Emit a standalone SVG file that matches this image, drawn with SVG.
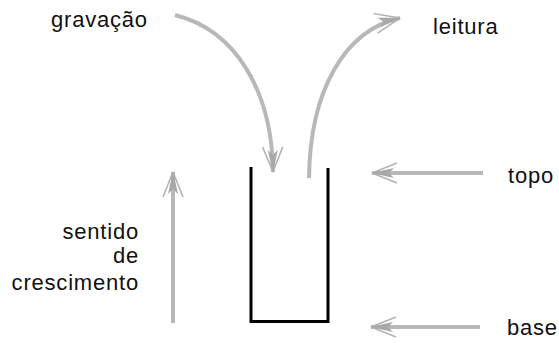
<svg xmlns="http://www.w3.org/2000/svg" width="559" height="343" viewBox="0 0 559 343">
<style>
.lbl{font-family:"Liberation Sans",Arial,sans-serif;font-size:22px;letter-spacing:0.8px;fill:#111}
.arr{fill:none;stroke:#b8b8b8;stroke-width:4;marker-end:url(#ah)}
.cont{fill:none;stroke:#000;stroke-width:3;stroke-linejoin:miter}
</style>
<defs>
<marker id="ah" markerUnits="userSpaceOnUse" viewBox="-30 -14 34 28" refX="0" refY="0" markerWidth="34" markerHeight="28" orient="auto" overflow="visible">
<path d="M0,0 L-25,-10 M0,0 L-25,10" stroke="#b4b4b4" stroke-width="1.6" fill="none"/>
<path d="M1,0 L-22,-5 L-17,0 L-22,5 Z" fill="#a8a8a8"/>
</marker>
</defs>
<g id="container"><path class="cont" d="M251,167 L251,321.5 L328,321.5 L328,168"/></g>
<g id="connectors">
<path class="arr" d="M175,15 C235,30 272,90 273,172"/>
<path class="arr" d="M309,178 C310,90 345,30 400,18"/>
<path class="arr" d="M173,323 L173,172"/>
<path class="arr" d="M483,173 L372,173"/>
<path class="arr" d="M480,327 L371,327"/>
</g>
<g id="gravacao"><text class="lbl" x="51" y="27">gravação</text></g>
<g id="leitura"><text class="lbl" x="433" y="34">leitura</text></g>
<g id="topo"><text class="lbl" x="508" y="183">topo</text></g>
<g id="base"><text class="lbl" x="507" y="335">base</text></g>
<g id="sentido">
<text class="lbl" x="139" y="239" text-anchor="end">sentido</text>
<text class="lbl" x="139" y="263" text-anchor="end">de</text>
<text class="lbl" x="139" y="290" text-anchor="end">crescimento</text>
</g>
</svg>
